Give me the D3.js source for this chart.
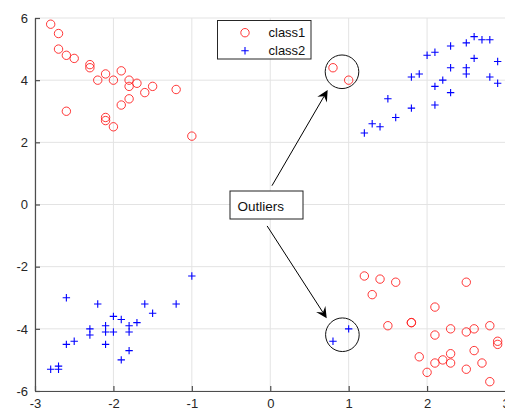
<!DOCTYPE html>
<html>
<head>
<meta charset="utf-8">
<script src="https://cdn.jsdelivr.net/npm/d3@7"></script>
<style>
  html, body { margin: 0; padding: 0; background: #fff; }
  svg { display: block; }
  text { font-family: "Liberation Sans", Arial, Helvetica, sans-serif; }
</style>
</head>
<body>
<svg id="chart" width="505" height="412"></svg>
<script>
// class1: red circles
const class1 = [
  [-2.8, 5.8], [-2.7, 5.5], [-2.7, 5.0], [-2.6, 4.8], [-2.5, 4.7],
  [-2.3, 4.5], [-2.3, 4.4], [-2.2, 4.0], [-2.1, 4.2], [-2.0, 4.0],
  [-1.9, 4.3], [-1.8, 4.0], [-1.8, 3.8], [-1.7, 3.9], [-1.6, 3.6],
  [-1.5, 3.8], [-1.2, 3.7], [-2.6, 3.0], [-1.9, 3.2], [-1.8, 3.4],
  [-2.1, 2.8], [-2.1, 2.7], [-2.0, 2.5], [-1.0, 2.2],
  [0.8, 4.4], [1.0, 4.0],
  [1.2, -2.3], [1.4, -2.4], [1.6, -2.5], [1.3, -2.9], [2.5, -2.5],
  [2.1, -3.3], [1.5, -3.9], [1.8, -3.8], [1.8, -3.8], [2.1, -4.2],
  [2.3, -4.0], [2.5, -4.1], [2.6, -4.0], [2.8, -3.9], [2.9, -4.4],
  [2.9, -4.5], [2.6, -4.7], [2.3, -4.8], [2.3, -5.1], [2.2, -5.0],
  [2.1, -5.1], [1.9, -4.9], [2.0, -5.4], [2.5, -5.3], [2.7, -5.1],
  [2.8, -5.7]
];

// class2: blue plus signs
const class2 = [
  [1.2, 2.3], [1.3, 2.6], [1.4, 2.5], [1.5, 3.4], [1.6, 2.8],
  [1.8, 3.1], [1.8, 4.1], [1.9, 4.2], [2.0, 4.8], [2.1, 4.9],
  [2.1, 3.8], [2.1, 3.2], [2.2, 4.0], [2.3, 5.1], [2.3, 4.4],
  [2.3, 3.6], [2.5, 5.2], [2.5, 4.4], [2.5, 4.2], [2.6, 5.4],
  [2.6, 4.7], [2.7, 5.3], [2.8, 5.3], [2.8, 4.1], [2.9, 4.6],
  [2.9, 3.9],
  [-2.6, -3.0], [-2.2, -3.2], [-2.0, -3.6], [-1.9, -3.7], [-1.7, -3.8],
  [-1.6, -3.2], [-1.5, -3.5], [-1.2, -3.2], [-1.0, -2.3], [-2.3, -4.0],
  [-2.3, -4.2], [-2.1, -3.9], [-2.1, -4.1], [-2.0, -4.1], [-2.1, -4.5],
  [-1.8, -3.9], [-1.8, -4.1], [-1.8, -4.7], [-1.9, -5.0], [-2.6, -4.5],
  [-2.5, -4.4], [-2.8, -5.3], [-2.7, -5.2], [-2.7, -5.3],
  [1.0, -4.0], [0.8, -4.4]
];

const xTicks = [-3, -2, -1, 0, 1, 2, 3];
const yTicks = [-6, -4, -2, 0, 2, 4, 6];
const legendLabels = ["class1", "class2"];

// annotation: circled outlier groups, label and arrows (data units)
const outlierRings = [[0.915, 4.27], [0.92, -4.19]];
const noteLabel = "Outliers";
const noteAnchor = [-0.1, 0.0];
const arrowStarts = [[0.022, 0.605], [-0.04, -0.69]];
const arrowTips = [[0.732, 3.68], [0.72, -3.66]];

const svg = d3.select("#chart");
const axisColor = "#262626";
const gridColor = "#e3e3e3";

const x = d3.scaleLinear().domain([-3, 3]).range([35, 505.5]);
const y = d3.scaleLinear().domain([-6, 6]).range([391, 18]);

// plain hyphen-minus tick labels
const fmt = d => String(d);

// grid
const grid = svg.append("g");
grid.selectAll("line.gx").data(xTicks).join("line")
  .attr("x1", d => x(d)).attr("x2", d => x(d))
  .attr("y1", y(-6)).attr("y2", y(6))
  .attr("stroke", gridColor).attr("stroke-width", 1);
grid.selectAll("line.gy").data(yTicks).join("line")
  .attr("x1", x(-3)).attr("x2", x(3))
  .attr("y1", d => y(d)).attr("y2", d => y(d))
  .attr("stroke", gridColor).attr("stroke-width", 1);

// axes with inward ticks
const xAxis = d3.axisBottom(x).tickValues(xTicks).tickFormat(fmt)
  .tickSizeInner(-5).tickSizeOuter(0).tickPadding(9);
const yAxis = d3.axisLeft(y).tickValues(yTicks).tickFormat(fmt)
  .tickSizeInner(-5).tickSizeOuter(0).tickPadding(7);

const gx = svg.append("g").attr("transform", `translate(0,${y(-6)})`).call(xAxis);
const gy = svg.append("g").attr("transform", `translate(${x(-3)},0)`).call(yAxis);
[gx, gy].forEach(g => {
  g.select(".domain").attr("stroke", "#4d4d4d").attr("stroke-width", 1.2);
  g.selectAll(".tick line").attr("stroke", "#4d4d4d").attr("stroke-width", 1.2);
  g.selectAll(".tick text").attr("fill", axisColor)
    .style("font-size", "13px")
    .style("font-family", "'Liberation Sans', Arial, sans-serif");
});
gx.selectAll(".tick text").attr("dy", "0.6em");

// points
const pts = svg.append("g");
pts.selectAll("circle.c1").data(class1).join("circle")
  .attr("cx", d => x(d[0])).attr("cy", d => y(d[1])).attr("r", 4.2)
  .attr("fill", "none").attr("stroke", "#ff2020").attr("stroke-width", 0.9);

pts.selectAll("path.c2").data(class2).join("path")
  .attr("transform", d => `translate(${x(d[0])},${y(d[1])})`)
  .attr("d", () => {
    const h = 3.7;
    return `M${-h},0H${h}M0,${-h}V${h}`;
  })
  .attr("fill", "none").attr("stroke", "#0000ff").attr("stroke-width", 1.1);

// annotation rings
svg.append("g").selectAll("circle").data(outlierRings).join("circle")
  .attr("cx", d => x(d[0])).attr("cy", d => y(d[1])).attr("r", 16.8)
  .attr("fill", "none").attr("stroke", "#111").attr("stroke-width", 1);

// arrows
const arrows = svg.append("g");
arrowStarts.forEach((s, i) => {
  const t = arrowTips[i];
  const x0 = x(s[0]), y0 = y(s[1]), x1 = x(t[0]), y1 = y(t[1]);
  const ang = Math.atan2(y1 - y0, x1 - x0);
  const L = 11, W = 5.5, notch = 7;
  const ux = Math.cos(ang), uy = Math.sin(ang);
  const px = -uy, py = ux;
  arrows.append("line")
    .attr("x1", x0).attr("y1", y0)
    .attr("x2", x1 - ux * notch).attr("y2", y1 - uy * notch)
    .attr("stroke", "#000").attr("stroke-width", 1);
  const bx = x1 - ux * L, by = y1 - uy * L;
  const nx = x1 - ux * notch, ny = y1 - uy * notch;
  arrows.append("path")
    .attr("d", `M${x1},${y1}L${bx + px * W},${by + py * W}L${nx},${ny}L${bx - px * W},${by - py * W}Z`)
    .attr("fill", "#000");
});

// label box
const note = svg.append("g");
note.append("text")
  .attr("x", 237.5).attr("y", y(noteAnchor[1]) + 6.5)
  .attr("fill", "#111").style("font-size", "13.5px")
  .text(noteLabel);
note.insert("rect", "text")
  .attr("x", 230).attr("y", 191).attr("width", 73).attr("height", 28)
  .attr("fill", "#fff").attr("stroke", "#222").attr("stroke-width", 1);

// legend
const legend = svg.append("g");
legend.append("rect")
  .attr("x", 217.5).attr("y", 20.5).attr("width", 93.5).attr("height", 38.5)
  .attr("fill", "#fff").attr("stroke", "#262626").attr("stroke-width", 1);
legendLabels.forEach((lab, i) => {
  const ly = 32.7 + i * 18;
  if (i === 0) {
    legend.append("circle").attr("cx", 245).attr("cy", ly).attr("r", 4.2)
      .attr("fill", "none").attr("stroke", "#ff2020").attr("stroke-width", 0.9);
  } else {
    legend.append("path").attr("d", `M${241.3},${ly}H${248.7}M245,${ly - 3.7}V${ly + 3.7}`)
      .attr("stroke", "#0000ff").attr("stroke-width", 1.1);
  }
  legend.append("text").attr("x", 268.5).attr("y", ly + 4.5)
    .attr("fill", "#111").style("font-size", "13px").text(lab);
});
</script>
</body>
</html>
